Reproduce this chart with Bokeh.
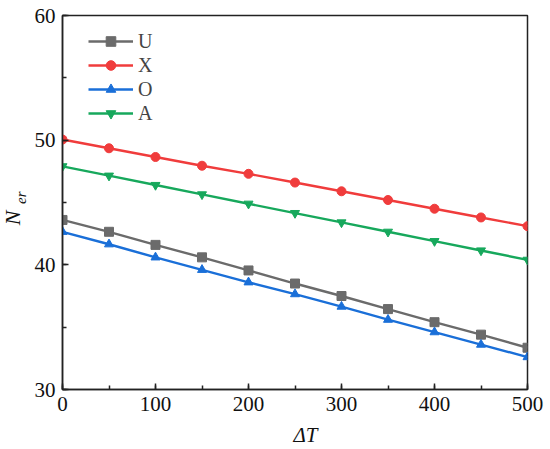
import math
from bokeh.plotting import figure
from bokeh.models import (Legend, LegendItem, SingleIntervalTicker, FixedTicker,
                          Range1d, LinearAxis)
from bokeh.embed import file_html
from bokeh.resources import INLINE

dT = [0, 50, 100, 150, 200, 250, 300, 350, 400, 450, 500]
U = [43.6, 42.65, 41.6, 40.6, 39.55, 38.5, 37.5, 36.45, 35.4, 34.4, 33.35]
X = [50.05, 49.35, 48.65, 47.95, 47.3, 46.6, 45.9, 45.2, 44.5, 43.8, 43.1]
O = [42.65, 41.65, 40.6, 39.6, 38.6, 37.65, 36.65, 35.6, 34.6, 33.6, 32.6]
A = [47.9, 47.15, 46.4, 45.65, 44.9, 44.15, 43.4, 42.65, 41.9, 41.15, 40.4]

series_names = ["U", "X", "O", "A"]
series_values = [U, X, O, A]
colors = ["#6b6b6b", "#f03c3c", "#1a6fd8", "#17a85c"]
markers = ["square", "circle", "triangle", "inverted_triangle"]

FONT = "Liberation Serif"
NB = "\u00a0"

# the label-only axes need more room than the reference's 62px left border,
# so the figure is given a wider border and shifted left by the difference
LEFT = 84
SHIFT = LEFT - 62

p = figure(width=LEFT + 465 + 21, height=449, output_backend="svg", toolbar_location=None,
           x_range=Range1d(0, 500), y_range=Range1d(30, 60),
           min_border_left=LEFT, min_border_right=21, min_border_top=15, min_border_bottom=60)
p.margin = (0, 0, 0, -SHIFT)
p.grid.visible = False
p.background_fill_color = "white"
p.border_fill_color = "white"
p.outline_line_color = "#222222"
p.outline_line_width = 1.5

p.xaxis.ticker = SingleIntervalTicker(interval=100, num_minor_ticks=2)
p.yaxis.ticker = SingleIntervalTicker(interval=10, num_minor_ticks=2)
for ax in (p.xaxis, p.yaxis):
    ax.axis_line_color = "#222222"
    ax.axis_line_width = 1.5
    ax.major_tick_in = 6
    ax.major_tick_out = 0
    ax.minor_tick_in = 4
    ax.minor_tick_out = 0
    ax.major_tick_line_color = "#222222"
    ax.minor_tick_line_color = "#222222"
    ax.major_tick_line_width = 1.5
    ax.minor_tick_line_width = 1.5
    ax.major_label_text_font = FONT
    ax.major_label_text_font_size = "21px"
    ax.major_label_text_color = "#111111"
    ax.major_label_standoff = 7

p.xaxis.axis_label = NB * 4 + "ΔT"
p.xaxis.axis_label_text_font = FONT
p.xaxis.axis_label_text_font_style = "italic"
p.xaxis.axis_label_text_color = "#111111"
p.xaxis.axis_label_text_font_size = "21px"
p.xaxis.axis_label_standoff = 9

# y title N_er built from two label-only axes (subscript 'er' above/right of 'N')
title_pos = {"er": 45.88, "N": 44.36}
title_size = {"er": "15px", "N": "22px"}
title_standoff = {"er": 4, "N": -16}
for key in ["er", "N"]:
    ax = LinearAxis(ticker=FixedTicker(ticks=[title_pos[key]], minor_ticks=[]),
                    major_label_overrides={title_pos[key]: key},
                    major_label_orientation=math.pi / 2,
                    major_label_text_font=FONT, major_label_text_font_style="italic",
                    major_label_text_font_size=title_size[key],
                    major_label_text_color="#111111",
                    major_label_standoff=title_standoff[key],
                    axis_line_color=None, major_tick_line_color=None,
                    minor_tick_line_color=None)
    p.add_layout(ax, "left")

items = []
for name, vals, c, m in zip(series_names, series_values, colors, markers):
    r1 = p.line(dT, vals, line_color=c, line_width=2.4)
    r2 = p.scatter(dT, vals, marker=m, size=9, fill_color=c, line_color=c)
    items.append(LegendItem(label=name, renderers=[r1, r2]))

legend = Legend(items=items, location=(26, 264), border_line_color=None,
                background_fill_alpha=0, padding=0, margin=0, spacing=0,
                glyph_width=45, glyph_height=24, label_height=24,
                label_standoff=5, label_text_font=FONT,
                label_text_font_size="20px", label_text_baseline="middle")
p.add_layout(legend, "center")

open("out.html", "w").write(file_html(p, INLINE))
